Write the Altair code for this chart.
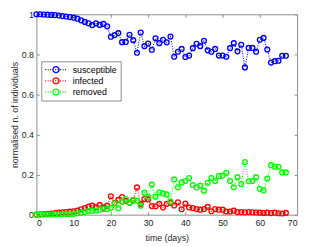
import altair as alt
import pandas as pd

days = list(range(68))

susceptible = [1.0, 1.0, 0.999, 0.998, 0.997, 0.996, 0.994, 0.991, 0.989, 0.986,
               0.983, 0.978, 0.970, 0.962, 0.955, 0.946, 0.955, 0.947, 0.952, 0.940,
               0.888, 0.896, 0.906, 0.861, 0.862, 0.898, 0.871, 0.808, 0.909, 0.841,
               0.854, 0.823, 0.880, 0.856, 0.873, 0.860, 0.889, 0.788, 0.813, 0.827,
               0.787, 0.794, 0.831, 0.853, 0.841, 0.868, 0.820, 0.813, 0.827, 0.794,
               0.794, 0.788, 0.831, 0.856, 0.815, 0.848, 0.735, 0.832, 0.832, 0.813,
               0.873, 0.882, 0.824, 0.759, 0.766, 0.768, 0.793, 0.793]

infected = [0.0, 0.002, 0.003, 0.004, 0.006, 0.008, 0.010, 0.012, 0.013, 0.015,
            0.017, 0.020, 0.027, 0.033, 0.040, 0.045, 0.037, 0.049, 0.035, 0.045,
            0.092, 0.058, 0.074, 0.088, 0.069, 0.059, 0.071, 0.136, 0.054, 0.078,
            0.076, 0.043, 0.042, 0.054, 0.036, 0.054, 0.059, 0.046, 0.062, 0.027,
            0.055, 0.036, 0.033, 0.028, 0.025, 0.028, 0.039, 0.017, 0.028, 0.025,
            0.025, 0.016, 0.016, 0.020, 0.013, 0.013, 0.012, 0.013, 0.012, 0.011,
            0.010, 0.009, 0.010, 0.008, 0.010, 0.007, 0.006, 0.009]

removed = [0.0, 0.0, 0.001, 0.001, 0.001, 0.002, 0.002, 0.003, 0.003, 0.004,
           0.004, 0.007, 0.010, 0.013, 0.018, 0.020, 0.021, 0.025, 0.028, 0.028,
           0.034, 0.057, 0.032, 0.065, 0.078, 0.060, 0.074, 0.070, 0.045, 0.110,
           0.088, 0.150, 0.090, 0.112, 0.106, 0.101, 0.065, 0.176, 0.137, 0.161,
           0.168, 0.183, 0.148, 0.136, 0.145, 0.120, 0.159, 0.183, 0.168, 0.192,
           0.195, 0.209, 0.168, 0.137, 0.187, 0.153, 0.263, 0.167, 0.168, 0.187,
           0.129, 0.121, 0.180, 0.247, 0.239, 0.239, 0.211, 0.211]

series_names = ["susceptible", "infected", "removed"]
series_colors = ["#0000ff", "#ff0000", "#00ff00"]
x_ticks = [0, 10, 20, 30, 40, 50, 60, 70]
y_ticks = [0, 0.2, 0.4, 0.6, 0.8, 1]

rows = []
for name, vals in zip(series_names, [susceptible, infected, removed]):
    for d, v in zip(days, vals):
        rows.append({"day": d, "value": v, "series": name})
df = pd.DataFrame(rows)


def legend_symbol():
    parts = []
    x = -1.0
    while x < 1.0:
        parts.append(f"M{x:.3f},0h0.09")
        x += 0.23
    r = 0.28
    parts.append(f"M{r},0A{r},{r} 0 1,1 {-r},0A{r},{r} 0 1,1 {r},0")
    return "".join(parts)


FONT = "Liberation Sans"
TXT = "#262626"
GRID = "#8c8c8c"

xscale = alt.Scale(domain=[0, 70], nice=False, zero=False)
yscale = alt.Scale(domain=[0, 1], nice=False)
cscale = alt.Scale(domain=series_names, range=series_colors)

base = alt.Chart(df)

lines = base.mark_line(strokeDash=[1, 1.5], strokeWidth=1.1).encode(
    x=alt.X("day:Q", scale=xscale,
            axis=alt.Axis(orient="top", values=x_ticks, labels=False, title=None,
                          domain=False, tickSize={"expr": "-3"}, tickColor=GRID)),
    y=alt.Y("value:Q", scale=yscale,
            axis=alt.Axis(orient="right", values=y_ticks, labels=False, title=None,
                          domain=False, tickSize={"expr": "-3"}, tickColor=GRID)),
    color=alt.Color("series:N", scale=cscale, legend=None),
    detail="series:N",
)

points = base.mark_point(shape="circle", filled=False, size=24, strokeWidth=1.4, opacity=1).encode(
    x=alt.X("day:Q", scale=xscale,
            axis=alt.Axis(orient="bottom", values=x_ticks, title="time (days)",
                          domain=False, tickSize={"expr": "-3"}, tickColor=GRID,
                          labelPadding=7, titlePadding=6)),
    y=alt.Y("value:Q", scale=yscale,
            axis=alt.Axis(orient="left", values=y_ticks, format="~g",
                          title="normalised n. of individuals",
                          domain=False, tickSize={"expr": "-3"}, tickColor=GRID,
                          labelPadding=6, titlePadding=2)),
    color=alt.Color("series:N", scale=cscale,
                    legend=alt.Legend(title=None, orient="none", legendX=5, legendY=48,
                                      fillColor="white", strokeColor=GRID, padding=3,
                                      symbolType=legend_symbol(), symbolSize=484,
                                      symbolStrokeWidth=1.3, symbolFillColor="transparent",
                                      clipHeight=11, labelOffset=5, rowPadding=0.5,
                                      labelFont=FONT, labelFontSize=9, labelColor="#000000")),
)

chart = alt.layer(lines, points).resolve_axis(
    x="independent", y="independent").resolve_legend(color="independent").properties(
    width=266, height=204.5,
    autosize=alt.AutoSizeParams(type="none"),
    padding={"left": 29, "top": 4, "right": 4, "bottom": 27},
).configure_view(stroke=GRID, strokeWidth=1).configure_axis(
    labelFont=FONT, labelFontSize=9, labelColor=TXT,
    titleFont=FONT, titleFontSize=9, titleColor=TXT, titleFontWeight="normal",
    grid=False,
)

chart.save("out.html", embed_options={"renderer": "svg", "actions": False})
